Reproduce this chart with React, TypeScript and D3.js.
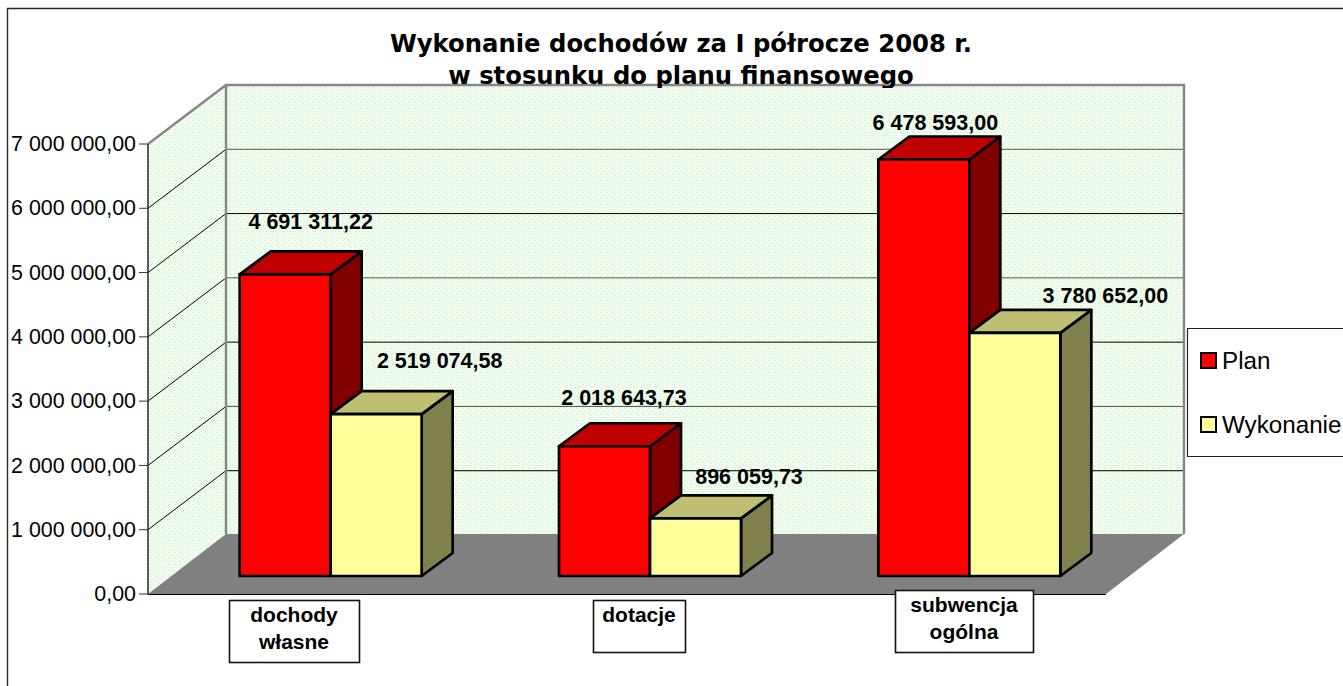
import React from "react";
import * as d3 from "d3";

const titleLines = ["Wykonanie dochodów za I półrocze 2008 r.", "w stosunku do planu finansowego"];
const categories = ["dochody własne", "dotacje", "subwencja ogólna"];
const categoryLines = [["dochody", "własne"], ["dotacje"], ["subwencja", "ogólna"]];
const seriesNames = ["Plan", "Wykonanie"];
const planValues = [4691311.22, 2018643.73, 6478593.0];
const doneValues = [2519074.58, 896059.73, 3780652.0];
const planLabels = ["4 691 311,22", "2 018 643,73", "6 478 593,00"];
const doneLabels = ["2 519 074,58", "896 059,73", "3 780 652,00"];
const tickValues = [0, 1e6, 2e6, 3e6, 4e6, 5e6, 6e6, 7e6];
const tickLabels = ["0,00", "1 000 000,00", "2 000 000,00", "3 000 000,00", "4 000 000,00", "5 000 000,00", "6 000 000,00", "7 000 000,00"];

const W = 1343, H = 686;
const SANS = "'Liberation Sans', Arial, sans-serif";
const x0 = 148, x1 = 1106, yFloor = 594, yTop = 144;
const dX = 78, dY = -59, floorBack = 534;
const barDX = 31, barDY = -23, baseDX = 23, baseDY = -18;
const seriesColors = [
  { front: "#ff0000", top: "#bf0000", side: "#800000" },
  { front: "#ffff99", top: "#bfbf73", side: "#80804d" },
];
// placement of the moved data labels, relative to each bar's front-top-left corner
const planShift = [[71, -52], [65, -48], [57, -37]];
const doneShift = [[109, -53], [99, -41], [136, -37]];
const catBoxes = [
  { x: 229, y: 600, w: 130, h: 62 },
  { x: 593, y: 600, w: 92, h: 52 },
  { x: 895, y: 590, w: 138, h: 62 },
];

export default function App() {
  const y = d3.scaleLinear().domain([0, 7e6]).range([yFloor, yTop]);
  const band = d3.scaleBand<string>().domain(categories).range([x0, x1]).paddingInner(0).paddingOuter(0);
  const h = (v: number) => yFloor - y(v);
  const barW = 91;
  const series = [planValues, doneValues];
  const shifts = [planShift, doneShift];
  const labels = [planLabels, doneLabels];
  const poly = (pts: number[][]) => d3.line()(pts as [number, number][]) + "Z";

  return (
    <svg width={W} height={H} style={{ position: "absolute", left: 0, top: 0, background: "#fff" }}>
      <defs>
        <pattern id="dots" width="6" height="6" patternUnits="userSpaceOnUse">
          <rect width="6" height="6" fill="#f6fdf5" />
          <rect x="0" y="0" width="2" height="1" fill="#d2f6d0" />
          <rect x="3" y="1" width="1" height="1" fill="#ccf5ca" />
          <rect x="5" y="2" width="1" height="2" fill="#d8f8d6" />
          <rect x="1" y="3" width="2" height="1" fill="#cff5cd" />
          <rect x="4" y="4" width="1" height="1" fill="#dcf9da" />
          <rect x="0" y="5" width="1" height="1" fill="#d2f6d0" />
          <rect x="2" y="5" width="2" height="1" fill="#e0f9de" />
        </pattern>
        <clipPath id="titleClip">
          <rect x={0} y={0} width={W} height={88} />
        </clipPath>
      </defs>
      <path d="M7.5,686V8.5H1343" fill="none" stroke="#2b2b2b" strokeWidth={1.4} />
      {/* walls */}
      <path d={poly([[x0, yFloor], [x0 + dX, yFloor + dY], [x0 + dX, yTop + dY], [x0, yTop]])} fill="url(#dots)" />
      <rect x={x0 + dX} y={yTop + dY} width={x1 - x0} height={floorBack - yTop - dY} fill="url(#dots)" />
      {/* floor */}
      <path d={poly([[x0, yFloor], [x1, yFloor], [x1 + dX, floorBack], [x0 + dX, floorBack]])} fill="#808080" />
      {/* gridlines */}
      {tickValues.slice(1, -1).map((v, i) => {
        const c = i % 2 === 0 ? "#000" : "#555";
        return (
          <g key={v} stroke={c} strokeWidth={1} fill="none">
            <line x1={x0} y1={y(v)} x2={x0 + dX} y2={y(v) + dY} stroke="#000" />
            <line x1={x0 + dX} y1={y(v) + dY} x2={x1 + dX} y2={y(v) + dY} />
          </g>
        );
      })}
      {/* wall edges */}
      <path d={`M${x0},${yTop}L${x0 + dX},${yTop + dY}H${x1 + dX}V${floorBack}`} fill="none" stroke="#868686" strokeWidth={2.4} />
      <line x1={x0 + dX} y1={yTop + dY} x2={x0 + dX} y2={floorBack} stroke="#868686" strokeWidth={2.4} />
      {/* title */}
      <g clipPath="url(#titleClip)" fontFamily="'DejaVu Sans', Verdana, sans-serif" fontWeight="bold" fontSize={24.3} textAnchor="middle" fill="#000">
        {titleLines.map((t, i) => (
          <text key={i} x={681} y={52 + i * 31.5}>{t}</text>
        ))}
      </g>
      {/* axis */}
      <line x1={x0} y1={yTop} x2={x0} y2={yFloor} stroke="#333" strokeWidth={1.6} />
      <line x1={x0} y1={yFloor + 0.5} x2={x1} y2={yFloor + 0.5} stroke="#000" strokeWidth={1} />
      {tickValues.map((v, i) => (
        <g key={v}>
          <line x1={x0 - 9} y1={y(v)} x2={x0} y2={y(v)} stroke="#333" strokeWidth={1} />
          <text x={x0 - 12} y={y(v) + 7.2} textAnchor="end" fontFamily={SANS} fontSize={21.4} fill="#000">{tickLabels[i]}</text>
        </g>
      ))}
      {/* bars */}
      {categories.map((c, ci) => {
        const center = band(c)! + band.bandwidth() / 2 + baseDX;
        const base = yFloor + baseDY;
        return (
          <g key={c} stroke="#000" strokeWidth={2.7} strokeLinejoin="round">
            {[0, 1].map((si) => {
              const v = series[si][ci];
              const left = center - barW + si * barW;
              const right = left + barW;
              const top = base - h(v);
              const col = seriesColors[si];
              return (
                <g key={si}>
                  <path fill={col.side} d={poly([[right, base], [right + barDX, base + barDY], [right + barDX, top + barDY], [right, top]])} />
                  <path fill={col.top} d={poly([[left, top], [right, top], [right + barDX, top + barDY], [left + barDX, top + barDY]])} />
                  <rect fill={col.front} x={left} y={top} width={barW} height={base - top} />
                </g>
              );
            })}
          </g>
        );
      })}
      {/* data labels */}
      <g fontFamily={SANS} fontWeight="bold" fontSize={21.5} textAnchor="middle" fill="#000">
        {categories.map((c, ci) =>
          [0, 1].map((si) => {
            const center = band(c)! + band.bandwidth() / 2 + baseDX;
            const left = center - barW + si * barW;
            const top = yFloor + baseDY - h(series[si][ci]);
            return (
              <text key={c + si} x={left + shifts[si][ci][0]} y={top + shifts[si][ci][1] + 7}>{labels[si][ci]}</text>
            );
          })
        )}
      </g>
      {/* category boxes */}
      {categoryLines.map((lines, i) => {
        const b = catBoxes[i];
        return (
          <g key={i}>
            <rect x={b.x + 0.5} y={b.y + 0.5} width={b.w} height={b.h} fill="#fff" stroke="#111" strokeWidth={1.6} />
            {lines.map((l, j) => (
              <text key={j} x={b.x + b.w / 2} y={b.y + 22 + j * 27} textAnchor="middle" fontFamily={SANS} fontWeight="bold" fontSize={21} fill="#000">{l}</text>
            ))}
          </g>
        );
      })}
      {/* legend */}
      <path d="M1343,328.5H1187.5V456.5H1343" fill="#fff" stroke="#222" strokeWidth={1.2} />
      {seriesNames.map((n, i) => (
        <g key={n}>
          <rect x={1201} y={353 + i * 64} width={15} height={15} fill={seriesColors[i].front} stroke="#000" strokeWidth={2} />
          <text x={1222} y={369 + i * 64} fontFamily={SANS} fontSize={24.2} fill="#000">{n}</text>
        </g>
      ))}
    </svg>
  );
}
